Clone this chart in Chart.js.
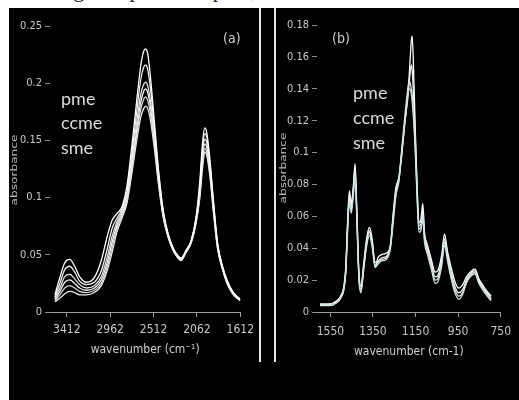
<!DOCTYPE html>
<html>
<head>
<meta charset="utf-8">
<script src="https://cdn.jsdelivr.net/npm/chart.js@4.4.1/dist/chart.umd.min.js"></script>
<style>
  html, body { margin: 0; padding: 0; }
  body { width: 519px; height: 400px; background: #fff; position: relative; overflow: hidden; }
  #caption { position: absolute; left: 0; top: 0; width: 519px; height: 8px; overflow: hidden; background: #fff; }
  #caption span { position: absolute; left: 55px; top: -21px; font: 22px/22px "Liberation Serif", serif; color: #222; white-space: nowrap; }
  #panel { position: absolute; left: 9px; top: 8px; width: 510px; height: 392px; background: #000; }
  .vline { position: absolute; top: 8px; height: 354px; width: 2px; background: #e6e6e6; }
  canvas { position: absolute; }
  .note { position: absolute; font: 18px/18px Lato, "Open Sans", sans-serif; color: #dcdcdc; white-space: nowrap; }
  .tag { position: absolute; font: 14px/14px "Liberation Sans Narrow", "DejaVu Sans Condensed", sans-serif; color: #cfcfcf; }
  .ytitle { position: absolute; font: 10px/10px "Liberation Sans Narrow", "DejaVu Sans Condensed", sans-serif; color: #bdbdbd;
            transform: translate(-50%, -50%) rotate(-90deg) scale(1.35, 0.8); white-space: nowrap; }
</style>
</head>
<body>
<div id="caption"><span>Fig. 3. Spectra of pme, ccme and sme</span></div>
<div id="panel"></div>
<canvas id="chartA" width="251" height="392" style="left:9px;top:8px;width:251px;height:392px"></canvas>
<canvas id="chartB" width="243" height="392" style="left:276px;top:8px;width:243px;height:392px"></canvas>
<div class="vline" style="left:259px"></div>
<div class="vline" style="left:274px"></div>

<div class="note" style="left:61px;top:89px">pme</div>
<div class="note" style="left:61px;top:113px">ccme</div>
<div class="note" style="left:61px;top:138px">sme</div>
<div class="note" style="left:353px;top:83px">pme</div>
<div class="note" style="left:353px;top:108px">ccme</div>
<div class="note" style="left:353px;top:133px">sme</div>
<div class="tag" style="left:223px;top:31px">(a)</div>
<div class="tag" style="left:332px;top:31px">(b)</div>
<div class="ytitle" style="left:15px;top:170px">absorbance</div>
<div class="ytitle" style="left:284px;top:168px">absorbance</div>

<script>
// (a) C–H stretching region, wavenumber in cm-1
const wnA = [3535,3484,3433,3381,3330,3279,3208,3126,3054,2993,2942,2891,2839,2788,2737,2686,2645,2614,2594,2573,2543,2502,2461,2410,2359,2308,2256,2226,2175,2123,2072,2031,2001,1980,1960,1929,1888,1847,1796,1745,1684,1612];
const hr1 = [0.015,0.030,0.043,0.046,0.040,0.031,0.026,0.030,0.045,0.066,0.080,0.086,0.092,0.110,0.145,0.185,0.215,0.228,0.230,0.226,0.205,0.165,0.125,0.088,0.068,0.056,0.049,0.047,0.054,0.062,0.082,0.115,0.150,0.161,0.157,0.135,0.095,0.060,0.040,0.027,0.017,0.011];
const hr2 = [0.013,0.025,0.037,0.040,0.035,0.027,0.024,0.026,0.036,0.055,0.073,0.082,0.090,0.105,0.138,0.175,0.203,0.214,0.216,0.212,0.195,0.160,0.122,0.087,0.067,0.055,0.048,0.047,0.053,0.062,0.081,0.111,0.145,0.156,0.153,0.132,0.093,0.059,0.039,0.026,0.017,0.011];
const hr3 = [0.012,0.021,0.031,0.033,0.029,0.024,0.021,0.023,0.031,0.048,0.066,0.079,0.088,0.102,0.133,0.166,0.190,0.199,0.201,0.198,0.184,0.154,0.119,0.085,0.066,0.055,0.048,0.046,0.053,0.061,0.080,0.108,0.140,0.151,0.148,0.129,0.091,0.058,0.039,0.026,0.016,0.011];
const hr4 = [0.011,0.018,0.026,0.028,0.025,0.021,0.019,0.021,0.028,0.043,0.061,0.076,0.086,0.099,0.128,0.160,0.183,0.193,0.195,0.192,0.179,0.150,0.116,0.084,0.066,0.054,0.048,0.046,0.053,0.061,0.079,0.105,0.136,0.147,0.144,0.126,0.089,0.057,0.038,0.025,0.016,0.010];
const hr5 = [0.010,0.015,0.021,0.023,0.021,0.018,0.017,0.019,0.025,0.039,0.056,0.073,0.084,0.097,0.125,0.155,0.177,0.186,0.188,0.185,0.173,0.146,0.114,0.083,0.065,0.054,0.047,0.046,0.052,0.060,0.078,0.102,0.132,0.143,0.140,0.123,0.087,0.056,0.038,0.025,0.016,0.010];
const hr6 = [0.009,0.012,0.016,0.018,0.017,0.015,0.015,0.017,0.023,0.036,0.052,0.070,0.082,0.095,0.121,0.150,0.170,0.178,0.180,0.178,0.167,0.142,0.112,0.082,0.065,0.054,0.047,0.045,0.052,0.060,0.077,0.100,0.128,0.140,0.137,0.120,0.085,0.055,0.037,0.024,0.015,0.010];
const xTicksA = [3412, 2962, 2512, 2062, 1612];
const yTicksA = [0, 0.05, 0.1, 0.15, 0.2, 0.25];

// (b) fingerprint region, wavenumber in cm-1
const wnB = [1599,1554,1519,1501,1487,1478,1470,1461,1452,1443,1434,1425,1416,1407,1394,1380,1367,1353,1340,1327,1309,1286,1268,1255,1242,1228,1215,1201,1188,1179,1170,1166,1161,1152,1143,1134,1125,1116,1108,1094,1076,1058,1045,1027,1014,1000,983,965,947,929,911,893,871,853,830,808,795];
const fp1 = [0.005,0.005,0.007,0.010,0.016,0.028,0.055,0.076,0.068,0.078,0.093,0.060,0.025,0.016,0.030,0.046,0.053,0.045,0.028,0.034,0.036,0.037,0.042,0.062,0.078,0.084,0.098,0.118,0.135,0.150,0.170,0.173,0.160,0.118,0.080,0.056,0.058,0.068,0.050,0.042,0.033,0.025,0.026,0.036,0.049,0.038,0.028,0.019,0.015,0.017,0.022,0.025,0.027,0.021,0.016,0.012,0.010];
const fp2 = [0.005,0.005,0.007,0.010,0.015,0.026,0.052,0.073,0.066,0.076,0.090,0.058,0.023,0.014,0.028,0.044,0.051,0.043,0.031,0.032,0.034,0.035,0.042,0.060,0.077,0.085,0.100,0.118,0.132,0.145,0.155,0.152,0.140,0.112,0.078,0.054,0.055,0.064,0.048,0.040,0.031,0.022,0.023,0.033,0.046,0.036,0.025,0.016,0.012,0.014,0.020,0.024,0.026,0.020,0.015,0.011,0.009];
const fp3 = [0.004,0.005,0.006,0.009,0.014,0.025,0.050,0.071,0.064,0.074,0.087,0.056,0.022,0.013,0.027,0.043,0.050,0.042,0.029,0.031,0.033,0.034,0.041,0.058,0.075,0.083,0.102,0.122,0.138,0.145,0.140,0.136,0.128,0.106,0.075,0.052,0.053,0.061,0.046,0.038,0.029,0.020,0.021,0.031,0.044,0.034,0.023,0.014,0.010,0.012,0.019,0.023,0.025,0.019,0.014,0.010,0.008];
const fp4 = [0.004,0.004,0.006,0.009,0.014,0.024,0.048,0.069,0.062,0.072,0.085,0.054,0.020,0.012,0.026,0.041,0.048,0.040,0.028,0.030,0.032,0.033,0.040,0.056,0.073,0.082,0.100,0.118,0.134,0.140,0.137,0.132,0.124,0.102,0.072,0.050,0.051,0.059,0.044,0.036,0.027,0.018,0.019,0.029,0.042,0.032,0.021,0.012,0.008,0.011,0.018,0.022,0.024,0.018,0.013,0.009,0.007];
const xTicksB = [1550, 1350, 1150, 950, 750];
const yTicksB = [0, 0.02, 0.04, 0.06, 0.08, 0.1, 0.12, 0.14, 0.16, 0.18];

const narrow = '"Liberation Sans Narrow", "DejaVu Sans Condensed", sans-serif';
const axisGrey = '#9c9c9c';
const labelGrey = '#c9c9c9';

function lineSets(xs, series, colors) {
  return series.map((ys, i) => ({
    data: xs.map((x, j) => ({ x: x, y: ys[j] })),
    borderColor: colors[i],
    borderWidth: 1.3,
    pointRadius: 0,
    fill: false,
    cubicInterpolationMode: 'monotone'
  }));
}

function spectrumChart(id, o) {
  return new Chart(document.getElementById(id), {
    type: 'line',
    data: { datasets: lineSets(o.xs, o.series, o.colors) },
    options: {
      responsive: false,
      animation: false,
      devicePixelRatio: 1,
      layout: { padding: { top: o.padTop, right: o.padRight, left: 0, bottom: 0 } },
      plugins: { legend: { display: false }, tooltip: { enabled: false } },
      scales: {
        x: {
          type: 'linear',
          reverse: true,
          min: o.xMin,
          max: o.xMax,
          afterBuildTicks: s => { s.ticks = o.xTicks.map(v => ({ value: v })); },
          afterFit: s => { s.height = 88; },
          grid: { display: true, drawOnChartArea: false, drawTicks: true, tickLength: 5, color: axisGrey },
          border: { display: true, color: axisGrey, width: 1 },
          ticks: { color: labelGrey, font: { family: narrow, size: 12 }, padding: o.xTickPad,
                   maxRotation: 0, autoSkip: false, callback: v => String(v) },
          title: { display: true, text: o.xTitle, color: '#d0d0d0',
                   font: { family: narrow, size: 12 }, padding: { top: 0, bottom: o.titlePad } }
        },
        y: {
          min: 0,
          max: o.yMax,
          afterBuildTicks: s => { s.ticks = o.yTicks.map(v => ({ value: v })); },
          afterFit: s => { s.width = 41; },
          grid: { display: true, drawOnChartArea: false, drawTicks: true, tickLength: 5, color: '#8a8a8a' },
          border: { display: false },
          ticks: { color: labelGrey, font: { family: narrow, size: 11 }, padding: 3,
                   callback: v => String(+v.toFixed(2)) }
        }
      }
    }
  });
}

spectrumChart('chartA', {
  xs: wnA,
  series: [hr1, hr2, hr3, hr4, hr5, hr6],
  colors: ['#ffffff', '#f0f0f0', '#e0e0e0', '#f6f6f6', '#d6d6d6', '#ebebeb'],
  xMin: 1612, xMax: 3586, yMax: 0.25,
  xTicks: xTicksA, yTicks: yTicksA,
  padTop: 18, padRight: 17, xTickPad: 6, titlePad: 43,
  xTitle: 'wavenumber (cm⁻¹)'
});

spectrumChart('chartB', {
  xs: wnB,
  series: [fp4, fp3, fp2, fp1],
  colors: ['#c6e4e2', '#e4e4e4', '#f2f2f2', '#ffffff'],
  xMin: 750, xMax: 1613, yMax: 0.18,
  xTicks: xTicksB, yTicks: yTicksB,
  padTop: 17, padRight: 9, xTickPad: 8, titlePad: 41,
  xTitle: 'wavenumber (cm-1)'
});
</script>
</body>
</html>
